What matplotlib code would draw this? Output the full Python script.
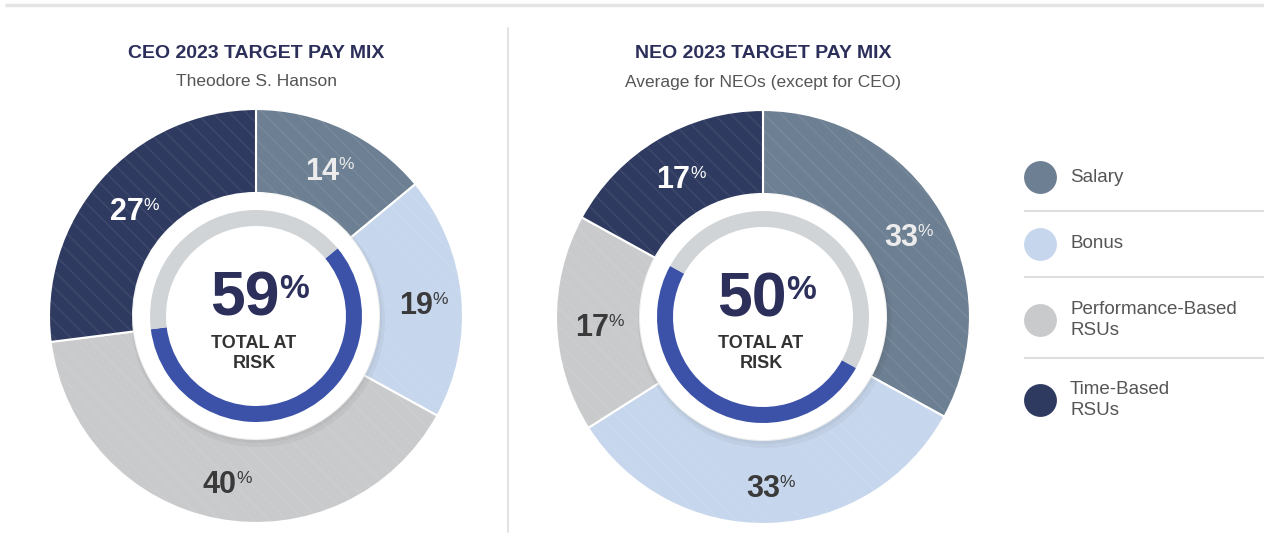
import numpy as np
import matplotlib
matplotlib.use("Agg")
import matplotlib.pyplot as plt
from matplotlib.patches import Circle

plt.rcParams["font.family"] = ["Liberation Sans", "DejaVu Sans"]
plt.rcParams["hatch.linewidth"] = 1.0

W, H = 1264, 548

# ── data ──────────────────────────────────────────────────────────────────────
CATEGORIES = ["Salary", "Bonus", "Performance-Based\nRSUs", "Time-Based\nRSUs"]
CEO_MIX = [14, 19, 40, 27]
NEO_MIX = [33, 33, 17, 17]
AT_RISK = [59, 50]          # bonus + performance RSUs
TITLES = ["CEO 2023 TARGET PAY MIX", "NEO 2023 TARGET PAY MIX"]
SUBTITLES = ["Theodore S. Hanson", "Average for NEOs (except for CEO)"]

# ── colours ───────────────────────────────────────────────────────────────────
SEG_COLORS = ["#6d7f92", "#c6d6ec", "#c9cacc", "#2e3a5f"]
LABEL_COLORS = ["#ececec", "#3a3a3a", "#3a3a3a", "#ffffff"]
RING_GRAY = "#d1d4d7"
RING_BLUE = "#3b52a8"
NAVY = "#2b2f5a"
TEXT_GRAY = "#555555"
LINE_GRAY = "#dedede"

fig = plt.figure(figsize=(W / 100, H / 100), dpi=100, facecolor="white")

# overlay axes in pixel coordinates
bg = fig.add_axes([0, 0, 1, 1])
bg.set_xlim(0, W)
bg.set_ylim(H, 0)
bg.axis("off")

bg.plot([5, W], [5, 5], color="#e4e4e4", lw=2.5, solid_capstyle="butt")
bg.plot([508, 508], [28, 532], color=LINE_GRAY, lw=1.2)

R_BOX = 220
R_OUT, R_IN = 207, 123
R_RING = 106
RING_W = 16
R_LABEL = 166


def donut(cx, cy, mix, at_risk, title, subtitle):
    ax = fig.add_axes([(cx - R_BOX) / W, 1 - (cy + R_BOX) / H,
                       2 * R_BOX / W, 2 * R_BOX / H])
    ax.pie(mix, radius=R_OUT, colors=SEG_COLORS, startangle=90,
           counterclock=False,
           wedgeprops=dict(width=R_OUT - R_IN, edgecolor="white", linewidth=1.5))
    # faint diagonal texture
    ax.pie(mix, radius=R_OUT, colors=["none"] * 4, startangle=90,
           counterclock=False,
           wedgeprops=dict(width=R_OUT - R_IN, fill=False, hatch="\\\\",
                           edgecolor=(1, 1, 1, 0.08), linewidth=0))
    # soft shadow round the hole
    ax.add_patch(Circle((2, -4), R_IN + 4, color="#000000", alpha=0.035, lw=0))
    ax.add_patch(Circle((1, -2), R_IN + 2, color="#000000", alpha=0.03, lw=0))
    ax.add_patch(Circle((0, 0), R_IN, color="white", lw=0))
    # at-risk ring
    ring = [mix[0], at_risk, 100 - mix[0] - at_risk]
    ax.pie(ring, radius=R_RING, colors=[RING_GRAY, RING_BLUE, RING_GRAY],
           startangle=90, counterclock=False,
           wedgeprops=dict(width=RING_W, linewidth=0))
    ax.set_xlim(-R_BOX, R_BOX)
    ax.set_ylim(-R_BOX, R_BOX)
    ax.set_aspect("equal")
    ax.axis("off")

    # segment labels
    cum = np.cumsum([0] + mix)
    for i, v in enumerate(mix):
        th = np.deg2rad((cum[i] + v / 2) / 100 * 360)
        x, y = R_LABEL * np.sin(th), R_LABEL * np.cos(th)
        t = ax.text(x - 5, y - 6, f"{v}", fontsize=22, fontweight="bold",
                    ha="center", va="center", color=LABEL_COLORS[i])
        ax.annotate("%", xy=(0.99, 0.98), xycoords=t, fontsize=12.5,
                    ha="left", va="top", color=LABEL_COLORS[i])

    # centre text
    t = ax.text(-11, 17, f"{at_risk}", fontsize=45, fontweight="bold",
                ha="center", va="center", color=NAVY)
    ax.annotate("%", xy=(0.99, 0.93), xycoords=t, fontsize=24, fontweight="bold",
                ha="left", va="top", color=NAVY)
    ax.text(-2, -27, "TOTAL AT", fontsize=13, fontweight="bold",
            ha="center", va="center", color="#333333")
    ax.text(-2, -47, "RISK", fontsize=13, fontweight="bold",
            ha="center", va="center", color="#333333")

    bg.text(cx, 53, title, fontsize=14, fontweight="bold", ha="center",
            va="center", color=NAVY)
    bg.text(cx, 82, subtitle, fontsize=12.5, ha="center", va="center",
            color=TEXT_GRAY)


donut(256, 316, CEO_MIX, AT_RISK[0], TITLES[0], SUBTITLES[0])
donut(763, 317, NEO_MIX, AT_RISK[1], TITLES[1], SUBTITLES[1])

# ── legend ────────────────────────────────────────────────────────────────────
leg_y = [177, 244, 320, 400]
for i, (lab, y) in enumerate(zip(CATEGORIES, leg_y)):
    bg.scatter([1040], [y], s=560, color=SEG_COLORS[i], lw=0)
    bg.text(1070, y, lab, fontsize=13.5, ha="left", va="center",
            color=TEXT_GRAY, linespacing=1.35)
for y in [211, 277, 358]:
    bg.plot([1025, W], [y, y], color=LINE_GRAY, lw=1.5)

fig.savefig("out.png", dpi=100, facecolor="white")
